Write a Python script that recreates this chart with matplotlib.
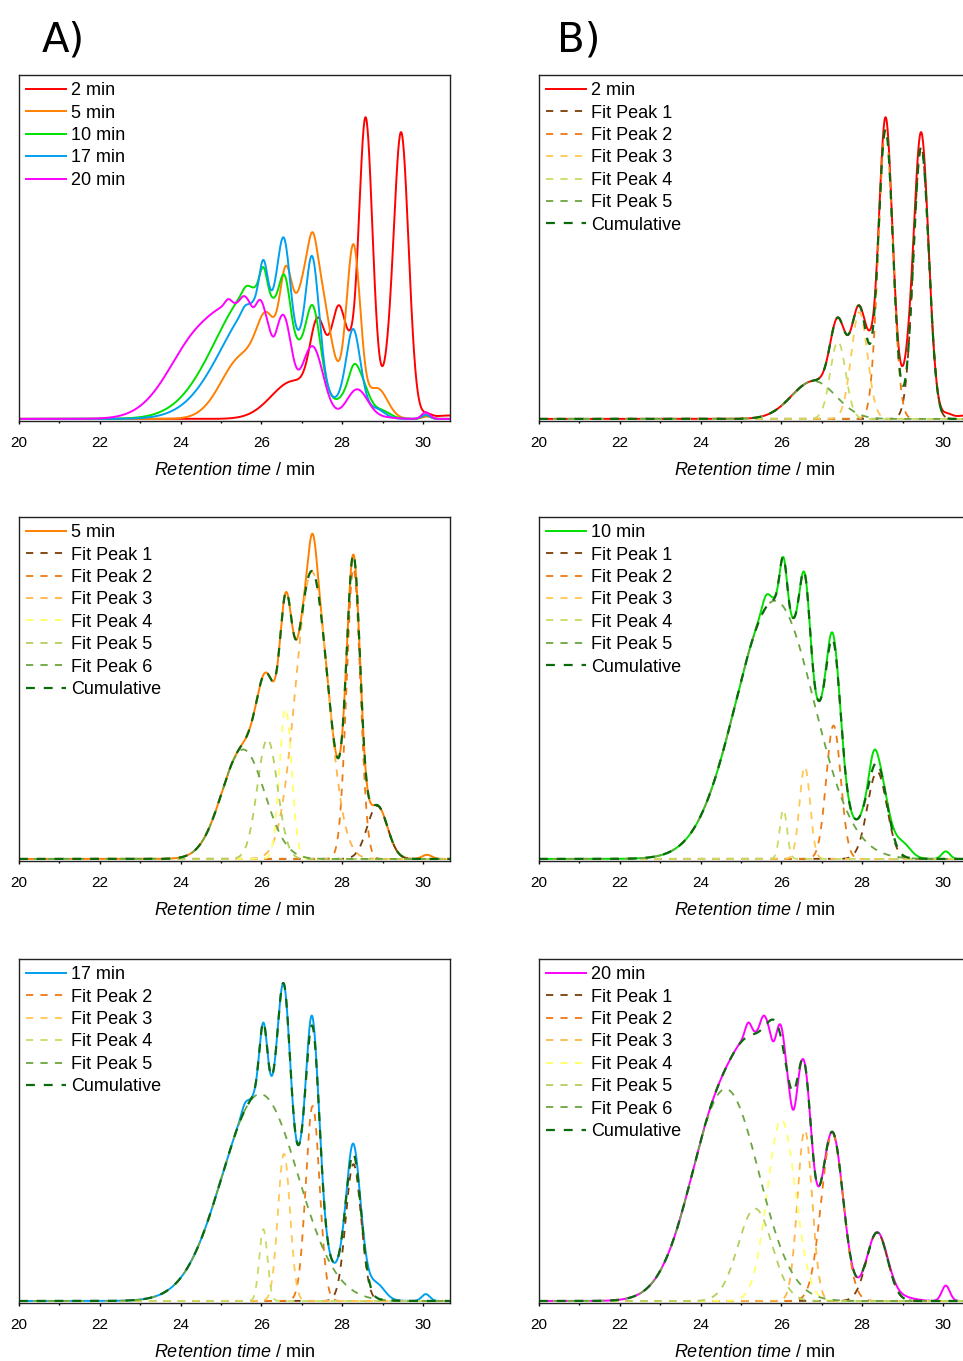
import numpy as np
import matplotlib.pyplot as plt

plt.rcParams['font.family'] = ['Liberation Sans', 'DejaVu Sans']
plt.rcParams['mathtext.fontset'] = 'custom'
plt.rcParams['mathtext.rm'] = 'Liberation Sans'
plt.rcParams['mathtext.it'] = 'Liberation Sans:italic'

# retention time grid used to draw the peak model
t = np.linspace(20, 31, 1101)

# fitted Gaussian peaks: centre / min, height (normalised), sigma / min
cen_2 = [29.46, 28.58, 27.93, 27.40, 26.80]
hgt_2 = [0.79, 0.84, 0.31, 0.225, 0.11]
sig_2 = [0.19, 0.18, 0.20, 0.19, 0.55]
# measured trace minus cumulative fit (residual peaks)
rcen_2 = [28.58, 29.46, 29.10, 28.20, 30.10, 30.60]
rhgt_2 = [0.035, 0.04, 0.07, 0.04, 0.012, 0.01]
rsig_2 = [0.10, 0.12, 0.15, 0.10, 0.12, 0.30]

cen_5 = [28.87, 28.28, 27.25, 26.60, 26.15, 25.55]
hgt_5 = [0.155, 0.85, 0.84, 0.44, 0.35, 0.32]
sig_5 = [0.25, 0.17, 0.40, 0.15, 0.25, 0.53]
rcen_5 = [27.27, 30.10]
rhgt_5 = [0.11, 0.012]
rsig_5 = [0.10, 0.12]

cen_10 = [28.37, 27.29, 26.58, 26.05, 25.84]
hgt_10 = [0.255, 0.39, 0.27, 0.145, 0.755]
sig_10 = [0.24, 0.18, 0.13, 0.09, 0.97]
rcen_10 = [28.28, 27.23, 25.62, 29.00, 30.07]
rhgt_10 = [0.045, 0.02, 0.035, 0.04, 0.022]
rsig_10 = [0.10, 0.10, 0.10, 0.20, 0.10]

cen_17 = [28.28, 27.27, 26.56, 26.05, 25.97]
hgt_17 = [0.40, 0.57, 0.43, 0.21, 0.605]
sig_17 = [0.19, 0.17, 0.15, 0.10, 0.94]
rcen_17 = [28.26, 27.23, 28.85, 30.07, 25.59]
rhgt_17 = [0.03, 0.03, 0.045, 0.02, 0.02]
rsig_17 = [0.10, 0.08, 0.20, 0.10, 0.08]

cen_20 = [28.37, 27.26, 26.58, 26.00, 25.35, 24.62]
hgt_20 = [0.20, 0.49, 0.50, 0.53, 0.27, 0.62]
sig_20 = [0.26, 0.27, 0.18, 0.35, 0.42, 0.82]
rcen_20 = [25.18, 25.55, 25.80, 26.01, 26.30, 30.07, 29.00]
rhgt_20 = [0.04, 0.035, -0.065, 0.04, -0.055, 0.045, 0.01]
rsig_20 = [0.08, 0.08, 0.08, 0.08, 0.08, 0.10, 0.30]

# scale of each trace in the overlay panel A)
overlay_scale = {"2 min": 1.0, "5 min": 0.571, "10 min": 0.50, "17 min": 0.568, "20 min": 0.428}

trace_colors = {"2 min": "#FF0000", "5 min": "#FF8000", "10 min": "#00E000",
                "17 min": "#00A0F0", "20 min": "#FF00FF"}

BROWN, ORG, LORG, YORG = "#7A3E06", "#EE7A12", "#FFB547", "#FFC850"
YGRN, YEL, LGRN, GRN, CUM = "#C8DC64", "#FFFF66", "#B2D05A", "#6AA540", "#0B6A0B"


def gauss(c, h, s):
    return h * np.exp(-0.5 * ((t - c) / s) ** 2)


def model(cen, hgt, sig):
    return sum(gauss(c, h, s) for c, h, s in zip(cen, hgt, sig))


# (axes rect, trace, fit peaks, residual, fit labels, fit colours)
panels = [
    ([0.5597, 0.6907, 0.4476, 0.2542], "2 min", (cen_2, hgt_2, sig_2), (rcen_2, rhgt_2, rsig_2),
     ["Fit Peak 1", "Fit Peak 2", "Fit Peak 3", "Fit Peak 4", "Fit Peak 5"],
     [BROWN, ORG, YORG, YGRN, GRN]),
    ([0.0197, 0.3674, 0.4476, 0.2528], "5 min", (cen_5, hgt_5, sig_5), (rcen_5, rhgt_5, rsig_5),
     ["Fit Peak 1", "Fit Peak 2", "Fit Peak 3", "Fit Peak 4", "Fit Peak 5", "Fit Peak 6"],
     [BROWN, ORG, LORG, YEL, LGRN, GRN]),
    ([0.5597, 0.3674, 0.4476, 0.2528], "10 min", (cen_10, hgt_10, sig_10), (rcen_10, rhgt_10, rsig_10),
     ["Fit Peak 1", "Fit Peak 2", "Fit Peak 3", "Fit Peak 4", "Fit Peak 5"],
     [BROWN, ORG, YORG, YGRN, GRN]),
    ([0.0197, 0.0426, 0.4476, 0.2528], "17 min", (cen_17, hgt_17, sig_17), (rcen_17, rhgt_17, rsig_17),
     ["_Fit Peak 1", "Fit Peak 2", "Fit Peak 3", "Fit Peak 4", "Fit Peak 5"],
     [BROWN, ORG, YORG, YGRN, GRN]),
    ([0.5597, 0.0426, 0.4476, 0.2528], "20 min", (cen_20, hgt_20, sig_20), (rcen_20, rhgt_20, rsig_20),
     ["Fit Peak 1", "Fit Peak 2", "Fit Peak 3", "Fit Peak 4", "Fit Peak 5", "Fit Peak 6"],
     [BROWN, ORG, LORG, YEL, LGRN, GRN]),
]


def style_axes(ax):
    ax.set_xlim(20, 30.67)
    ax.set_ylim(-0.006, 1.0)
    ax.set_xticks([20, 22, 24, 26, 28, 30])
    ax.set_xticks([21, 23, 25, 27, 29], minor=True)
    ax.set_yticks([])
    ax.tick_params(axis='x', which='major', direction='out', length=2.5, width=1, labelsize=11, pad=8.5)
    ax.tick_params(axis='x', which='minor', direction='out', length=1.6, width=1)
    for sp in ax.spines.values():
        sp.set_color('#222222')
        sp.set_linewidth(1.0)
    ax.set_xlabel(r"$\mathit{Retention\ time}$ / min", fontsize=13, labelpad=8.5)


def add_legend(ax):
    ax.legend(loc='upper left', bbox_to_anchor=(0, 1), frameon=False, fontsize=13,
              handlelength=2.2, handletextpad=0.3, labelspacing=0.3,
              borderaxespad=0.2, borderpad=0.2)


fig = plt.figure(figsize=(9.63, 13.61), dpi=100)

traces = {}
for rect, name, fit, res, labels, colors in panels:
    ax = fig.add_axes(rect)
    fits = [gauss(c, h, s) for c, h, s in zip(*fit)]
    cumulative = sum(fits)
    measured = cumulative + model(*res)
    traces[name] = measured
    ax.plot(t, measured, color=trace_colors[name], lw=1.4, label=name)
    for y, lab, col in zip(fits, labels, colors):
        ax.plot(t, y, color=col, lw=1.3, ls=(0, (4, 4)), label=lab)
    ax.plot(t, cumulative, color=CUM, lw=1.6, ls=(0, (4, 4)), label="Cumulative")
    style_axes(ax)
    add_legend(ax)

# overlay of all samples
ax = fig.add_axes([0.0197, 0.6907, 0.4476, 0.2542])
for name in ["2 min", "5 min", "10 min", "17 min", "20 min"]:
    ax.plot(t, traces[name] * overlay_scale[name], color=trace_colors[name], lw=1.4, label=name)
style_axes(ax)
add_legend(ax)

fig.text(0.043, 0.970, "A)", fontsize=29, va='center', ha='left',
         family=['Liberation Sans Narrow', 'DejaVu Sans'])
fig.text(0.578, 0.970, "B)", fontsize=29, va='center', ha='left',
         family=['Liberation Sans Narrow', 'DejaVu Sans'])

fig.savefig("out.png", dpi=100)
